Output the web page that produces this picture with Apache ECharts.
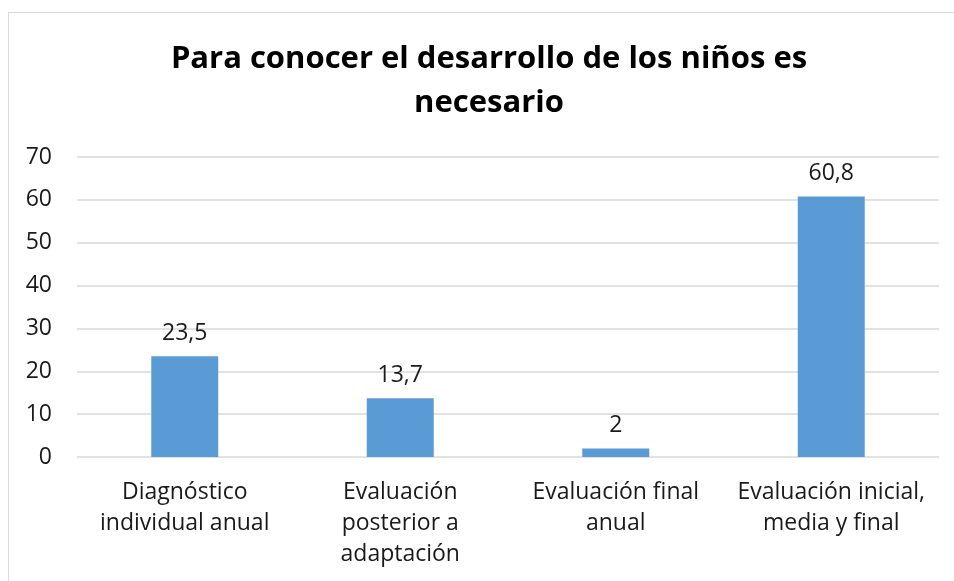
<!DOCTYPE html>
<html>
<head>
<meta charset="utf-8">
<script src="https://cdn.jsdelivr.net/npm/echarts@6/dist/echarts.min.js"></script>
<style>
  html, body { margin: 0; padding: 0; background: #fff; }
  #frame { position: absolute; left: 8px; top: 12px; width: 960px; height: 600px; border: 1px solid #d9d9d9; box-sizing: border-box; }
  #main { position: absolute; left: 0; top: 0; width: 954px; height: 581px; }
</style>
</head>
<body>
<div id="frame"></div>
<div id="main"></div>
<script>
  // datos
  var categorias = ['Diagnóstico\nindividual anual', 'Evaluación\nposterior a\nadaptación', 'Evaluación final\nanual', 'Evaluación inicial,\nmedia y final'];
  var valores = [23.5, 13.7, 2, 60.8];
  var titulo = 'Para conocer el desarrollo de los niños es\nnecesario';

  var fuente = '"Open Sans", sans-serif';
  var myChart = echarts.init(document.getElementById('main'));
  var option = {
    animation: false,
    title: {
      text: titulo,
      left: 484,
      textAlign: 'center',
      top: 32,
      textStyle: { fontFamily: fuente, fontSize: 31, fontWeight: 'bold', color: '#000', lineHeight: 44 }
    },
    grid: { left: 77, right: 15, top: 157, bottom: 124, containLabel: false },
    xAxis: {
      type: 'category',
      data: categorias,
      axisLine: { show: false },
      axisTick: { show: false },
      axisLabel: { fontFamily: fuente, fontSize: 23, color: '#1a1a1a', lineHeight: 31, margin: 20, interval: 0 }
    },
    yAxis: {
      type: 'value',
      min: 0,
      max: 70,
      interval: 10,
      axisLine: { show: false },
      axisTick: { show: false },
      splitLine: { lineStyle: { color: '#d9d9d9', width: 1.5 } },
      axisLabel: { fontFamily: fuente, fontSize: 23, color: '#1a1a1a', margin: 25 }
    },
    series: [{
      type: 'bar',
      data: valores,
      barWidth: 67,
      itemStyle: { color: '#5B9BD5' },
      label: {
        show: true,
        position: 'top',
        distance: 11,
        fontFamily: fuente,
        fontSize: 23,
        color: '#1a1a1a',
        formatter: function (p) { return String(p.value).replace('.', ','); }
      }
    }]
  };
  myChart.setOption(option);
</script>
</body>
</html>
